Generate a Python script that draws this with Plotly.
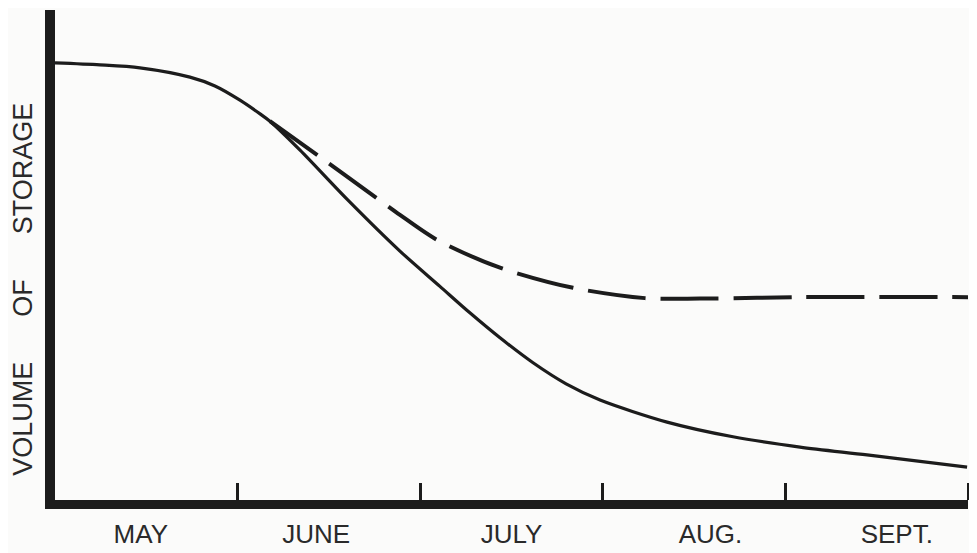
import plotly.graph_objects as go

# Months along the x axis (each month spans one unit)
month_labels = ["MAY", "JUNE", "JULY", "AUG.", "SEPT."]
month_label_pos = [0.47, 1.43, 2.50, 3.59, 4.61]
month_boundaries = [1, 2, 3, 4, 5]

# Solid curve (volume of storage)
solid_x = [0, 0.246, 0.465, 0.739, 0.876, 1.013, 1.123, 1.177, 1.342, 1.599,
           1.889, 2.108, 2.272, 2.437, 2.618, 2.799, 2.985, 3.352, 3.713,
           4.080, 4.447, 4.995]
solid_y = [89.2, 88.8, 88.2, 86.3, 84.5, 81.6, 78.8, 77.3, 71.4, 61.4,
           50.8, 43.6, 38.2, 33.1, 28.0, 23.7, 20.4, 15.9, 12.9,
           10.8, 9.2, 6.7]

# Dashed curve
dashed_x = [1.177, 1.451, 1.763, 1.889, 2.092, 2.437, 2.837, 3.231, 3.532, 4.080, 5.0]
dashed_y = [77.3, 70.0, 61.6, 58.2, 53.1, 47.4, 43.3, 41.2, 41.1, 41.4, 41.4]

ink = "#1c1c1c"
font_family = "Liberation Sans, Arial, sans-serif"

fig = go.Figure()
fig.add_trace(go.Scatter(
    x=solid_x, y=solid_y, mode="lines",
    line=dict(color=ink, width=3.2, shape="spline", smoothing=0.8),
    showlegend=False, hoverinfo="skip"))
fig.add_trace(go.Scatter(
    x=dashed_x, y=dashed_y, mode="lines",
    line=dict(color=ink, width=4, shape="spline", smoothing=0.8, dash="58px,15px"),
    showlegend=False, hoverinfo="skip"))

gap = "\u00a0" * 6
fig.add_annotation(
    text="VOLUME" + gap + "OF" + gap + "STORAGE",
    xref="paper", yref="paper", x=-0.035, y=0.429,
    xanchor="center", yanchor="middle", textangle=-90, showarrow=False,
    font=dict(family=font_family, size=27, color="#2a2a2a"))

fig.update_layout(
    width=969, height=545,
    margin=dict(l=47, r=9, t=2, b=53),
    paper_bgcolor="#fbfbfa", plot_bgcolor="#fbfbfa",
    xaxis=dict(
        range=[0, 5], showgrid=False, zeroline=False, automargin=False,
        showline=True, linewidth=9, linecolor=ink,
        tickmode="array", tickvals=month_label_pos, ticktext=month_labels,
        ticks="", ticklabelstandoff=3,
        tickfont=dict(family=font_family, size=26, color="#2a2a2a"),
        minor=dict(tickmode="array", tickvals=month_boundaries, ticks="inside",
                   ticklen=17, tickwidth=3, tickcolor=ink, showgrid=False),
    ),
    yaxis=dict(
        range=[0, 100], showgrid=False, zeroline=False, automargin=False,
        showline=True, linewidth=10, linecolor=ink,
        showticklabels=False, ticks="",
    ),
)

fig.write_html("out.html")
